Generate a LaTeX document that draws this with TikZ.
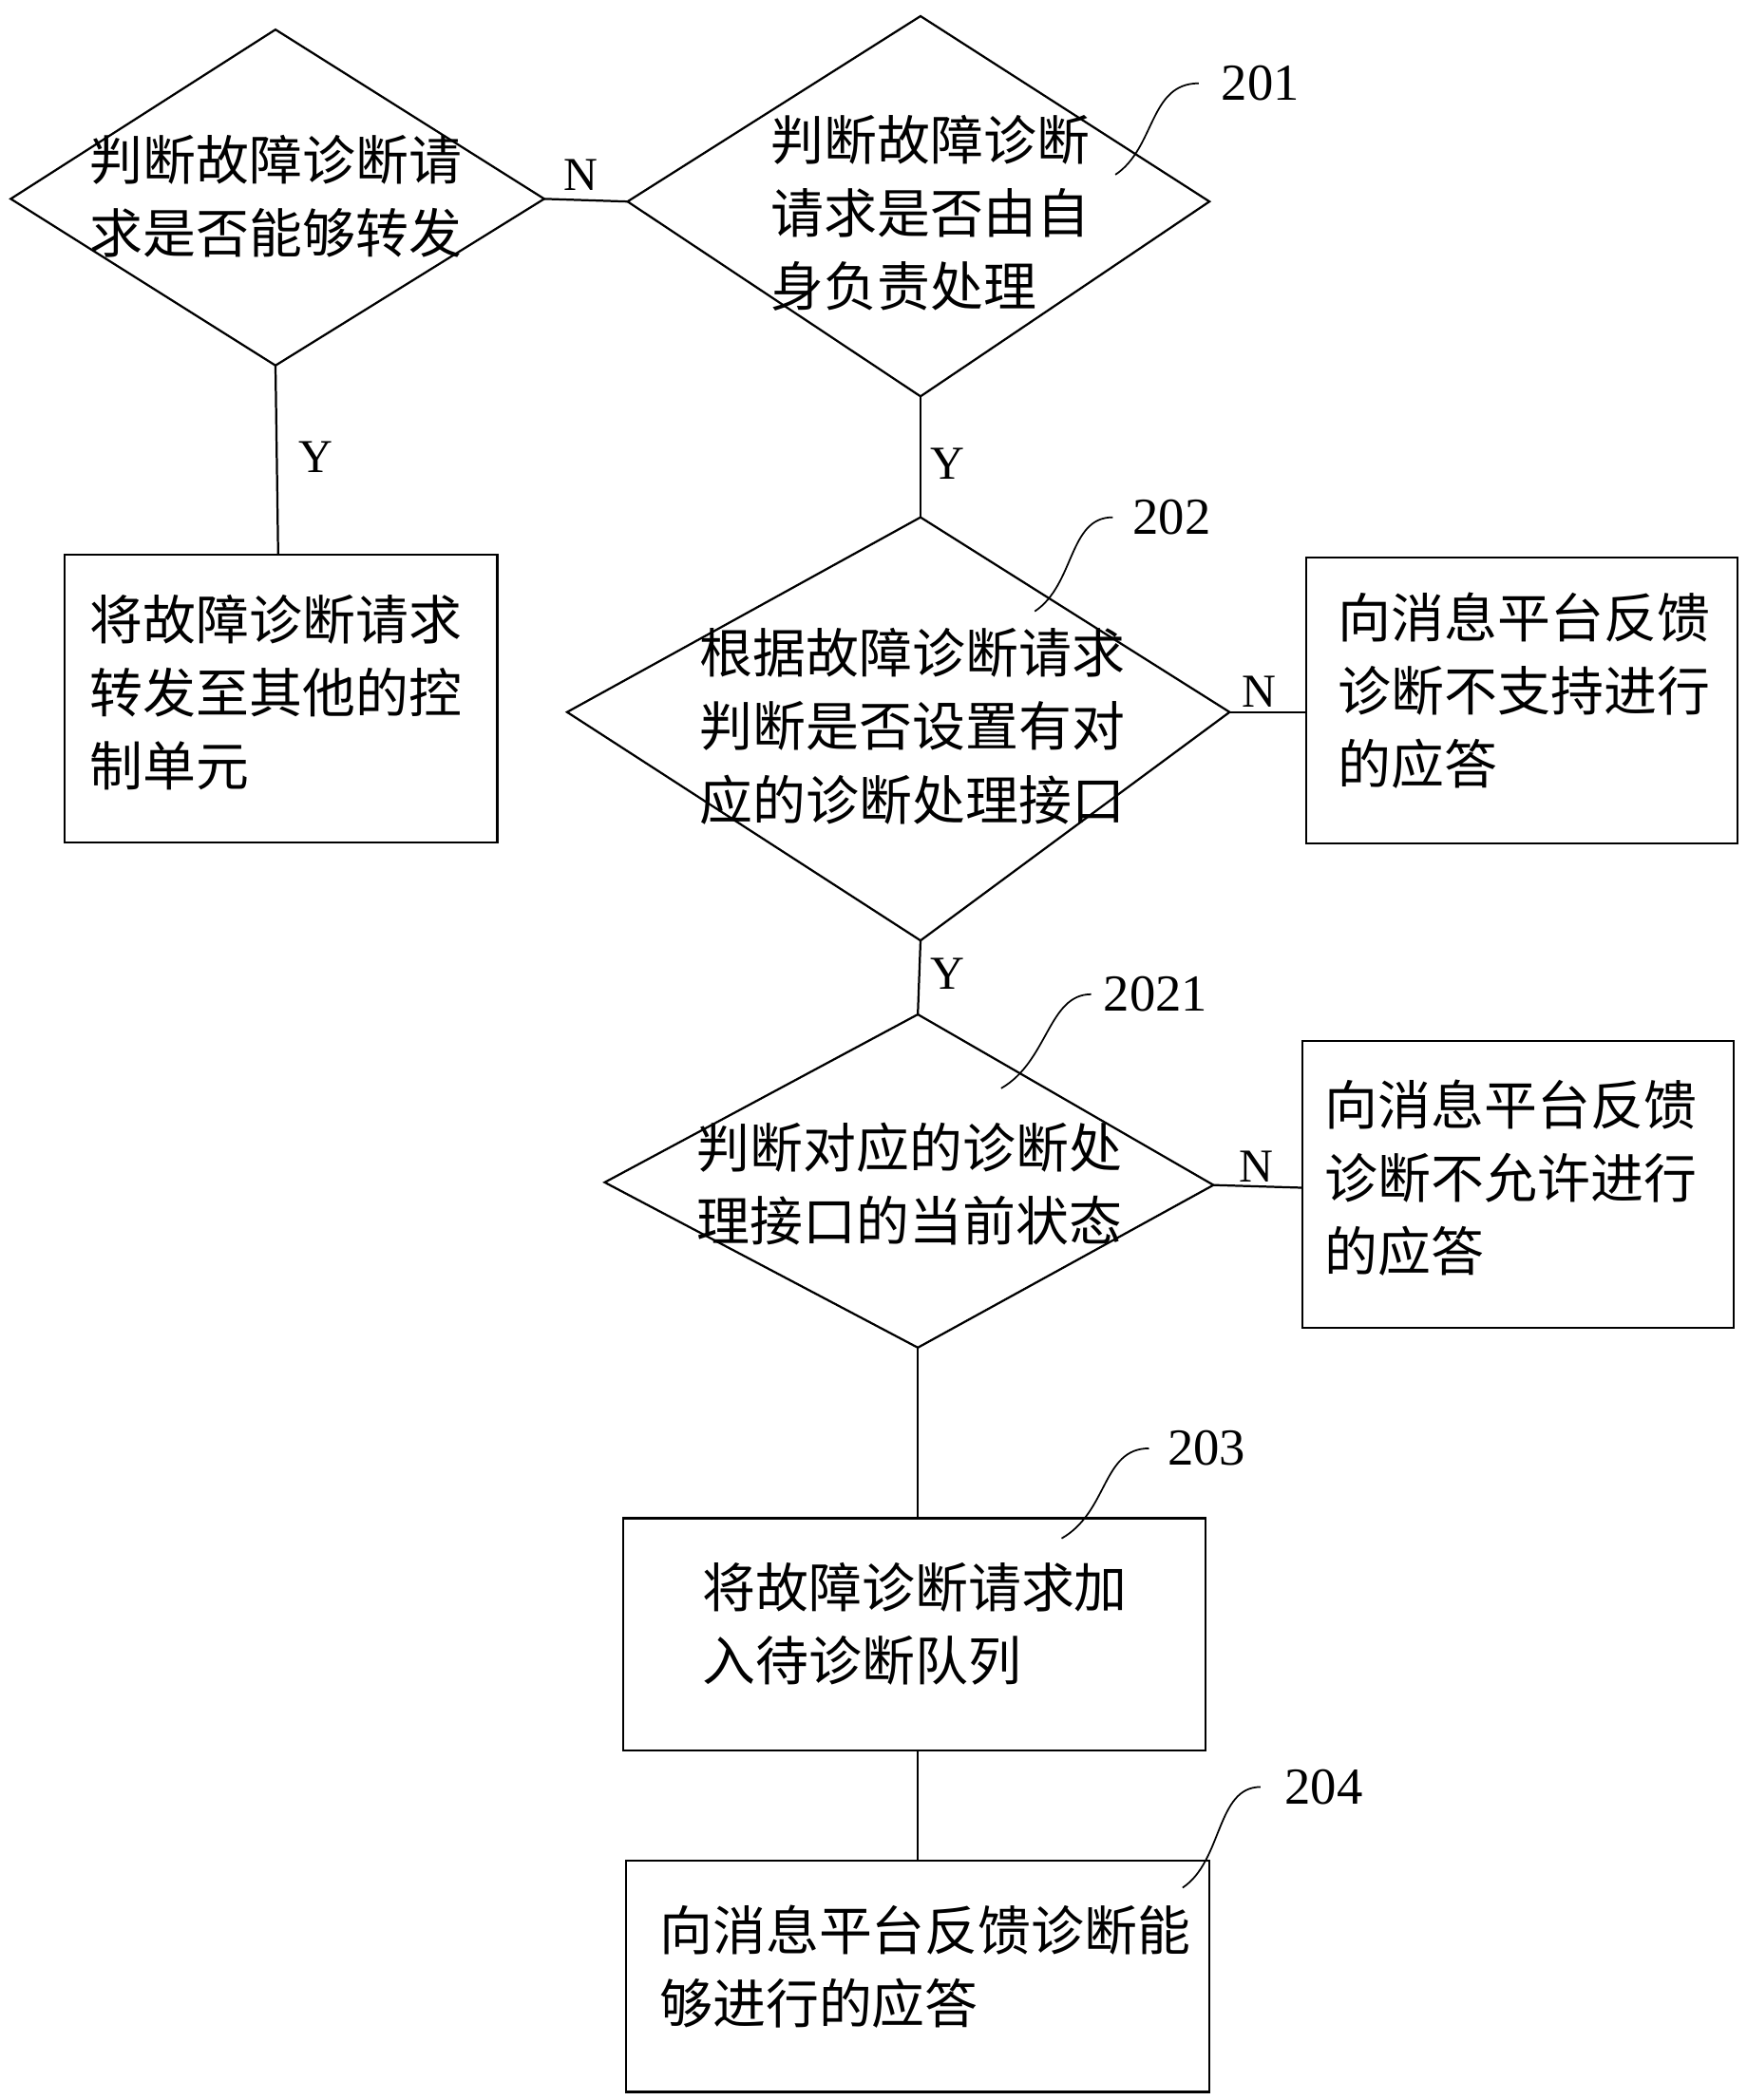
\documentclass[tikz,border=0pt]{standalone}
\usepackage{fontspec}
\setmainfont{Liberation Serif}
\newfontfamily\cjk{Noto Sans CJK SC}
\begin{document}
\begin{tikzpicture}[x=0.02cm,y=-0.02cm,line width=0.9pt,
  t/.style={font=\cjk\fontsize{22.5}{31}\selectfont,align=left,inner sep=0},
  lab/.style={font=\fontsize{22}{22}\selectfont,inner sep=0},
  yn/.style={font=\fontsize{20}{20}\selectfont,inner sep=0}]
\useasboundingbox (0,0) rectangle (1300,1563);
% diamonds
\draw (8,148) coordinate(aL) -- (205,22) -- (405,148) coordinate(aR) -- (205,272) coordinate(aB) -- cycle;
\draw (467,150) coordinate(bL) -- (685,12) -- (900,150) -- (685,295) coordinate(bB) -- cycle;
\draw (422,530) -- (685,385) coordinate(cT) -- (915,530) coordinate(cR) -- (685,700) coordinate(cB) -- cycle;
\draw (450,880) -- (683,755) coordinate(dT) -- (903,882) coordinate(dR) -- (683,1003) coordinate(dB) -- cycle;
% boxes
\draw (48,413) rectangle (370,627);
\draw (972,415) rectangle (1293,628);
\draw (969,775) rectangle (1290,988);
\draw (464,1130) rectangle (897,1303);
\draw (466,1385) rectangle (900,1557);
% connectors
\draw (aR) -- (bL);
\draw (aB) -- (207,413);
\draw (bB) -- (cT);
\draw (cR) -- (972,530);
\draw (cB) -- (dT);
\draw (dR) -- (969,884);
\draw (dB) -- (683,1130);
\draw (683,1303) -- (683,1385);
% yn labels
\node[yn] at (432,130) {N};
\node[yn] at (235,340) {Y};
\node[yn] at (705,345) {Y};
\node[yn] at (937,515) {N};
\node[yn] at (705,725) {Y};
\node[yn] at (935,868) {N};
% texts
\node[t,anchor=north west] at (66,100) {判断故障诊断请\\求是否能够转发};
\node[t,anchor=north west] at (573,85) {判断故障诊断\\请求是否由自\\身负责处理};
\node[t,anchor=north west] at (66,442) {将故障诊断请求\\转发至其他的控\\制单元};
\node[t,anchor=north west] at (520,467) {根据故障诊断请求\\判断是否设置有对\\应的诊断处理接口};
\node[t,anchor=north west] at (995,440) {向消息平台反馈\\诊断不支持进行\\的应答};
\node[t,anchor=north west] at (518,835) {判断对应的诊断处\\理接口的当前状态};
\node[t,anchor=north west] at (985,803) {向消息平台反馈\\诊断不允许进行\\的应答};
\node[t,anchor=north west] at (522,1162) {将故障诊断请求加\\入待诊断队列};
\node[t,anchor=north west] at (490,1417) {向消息平台反馈诊断能\\够进行的应答};
% step labels
\node[lab] at (938,62) {201};
\node[lab] at (872,385) {202};
\node[lab] at (860,740) {2021};
\node[lab] at (898,1078) {203};
\node[lab] at (985,1330) {204};
\draw[line width=0.7pt] (892,62) .. controls (855,62) and (860,110) .. (830,130);
\draw[line width=0.7pt] (828,385) .. controls (795,385) and (800,435) .. (770,455);
\draw[line width=0.7pt] (812,740) .. controls (780,740) and (780,790) .. (745,810);
\draw[line width=0.7pt] (855,1078) .. controls (820,1078) and (825,1125) .. (790,1145);
\draw[line width=0.7pt] (938,1330) .. controls (905,1330) and (910,1385) .. (880,1405);
\end{tikzpicture}
\end{document}
